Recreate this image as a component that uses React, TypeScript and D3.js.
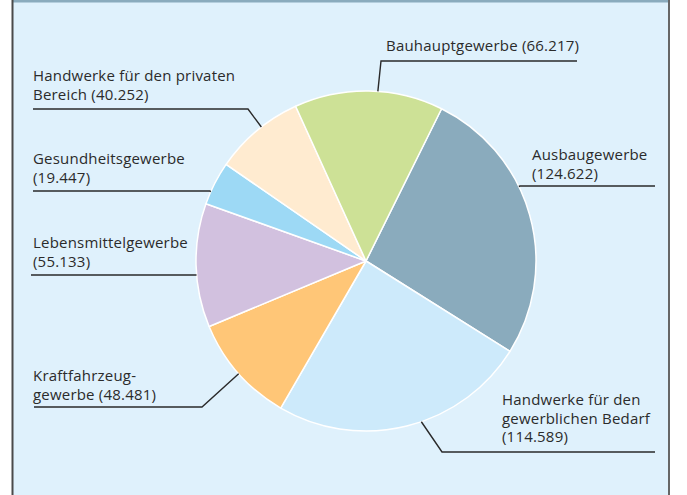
import React from "react";
import * as d3 from "d3";

const categories = [
  "Ausbaugewerbe",
  "Handwerke für den gewerblichen Bedarf",
  "Kraftfahrzeuggewerbe",
  "Lebensmittelgewerbe",
  "Gesundheitsgewerbe",
  "Handwerke für den privaten Bereich",
  "Bauhauptgewerbe",
];
const values = [124.622, 114.589, 48.481, 55.133, 19.447, 40.252, 66.217];
const valueLabels = ["124.622", "114.589", "48.481", "55.133", "19.447", "40.252", "66.217"];
const colors = ["#8aabbd", "#cdeafb", "#ffc677", "#d2c1df", "#9dd9f5", "#ffebd0", "#cde196"];

// label text lines (last line carries the value)
const labelLines: string[][] = [
  ["Ausbaugewerbe", "(124.622)"],
  ["Handwerke für den", "gewerblichen Bedarf", "(114.589)"],
  ["Kraftfahrzeug-", "gewerbe (48.481)"],
  ["Lebensmittelgewerbe", "(55.133)"],
  ["Gesundheitsgewerbe", "(19.447)"],
  ["Handwerke für den privaten", "Bereich (40.252)"],
  ["Bauhauptgewerbe (66.217)"],
];

// layout: text anchor, leader line path (elbow + end), angle on pie edge (deg)
const layout = [
  { tx: 532, ty: 160, leaderAngle: 64, elbow: [520, 186], end: [655, 186] },
  { tx: 502, ty: 405, leaderAngle: 161, elbow: [442, 452], end: [655, 452] },
  { tx: 33, ty: 381, leaderAngle: 228.5, elbow: [202, 407], end: [34, 407] },
  { tx: 33, ty: 248, leaderAngle: 265.3, elbow: [196, 275], end: [31, 275] },
  { tx: 33, ty: 164, leaderAngle: 294, elbow: [210, 191], end: [33, 191] },
  { tx: 33, ty: 81, leaderAngle: 322, elbow: [248, 109], end: [33, 109] },
  { tx: 386, ty: 51, leaderAngle: 4, elbow: [381, 61], end: [577, 61] },
];

const W = 687;
const H = 495;
const cx = 366;
const cy = 261;
const R = 170;
const startDeg = 26.4;

export default function App() {
  const pie = d3
    .pie<number>()
    .sort(null)
    .value((d) => d)
    .startAngle((startDeg * Math.PI) / 180)
    .endAngle(((startDeg + 360) * Math.PI) / 180);
  const arcs = pie(values);
  const arc = d3.arc<d3.PieArcDatum<number>>().innerRadius(0).outerRadius(R);
  const lineH = 18.5;

  return (
    <svg
      width={W}
      height={H}
      style={{ position: "absolute", left: 0, top: 0, display: "block" }}
      fontFamily="'Open Sans', 'Noto Sans', sans-serif"
    >
      <rect x={0} y={0} width={W} height={H} fill="#ffffff" />
      <rect x={12} y={0} width={657} height={H} fill="#dff1fc" />
      <rect x={12} y={0} width={658} height={2.5} fill="#8aabbd" />
      <line x1={12.5} y1={0} x2={12.5} y2={H} stroke="#4a4a4a" strokeWidth={2} />
      <line x1={669} y1={0} x2={669} y2={H} stroke="#666666" strokeWidth={2} />
      <g transform={`translate(${cx},${cy})`}>
        {arcs.map((a, i) => (
          <path key={categories[i]} d={arc(a) || ""} fill={colors[i]} stroke="#ffffff" strokeWidth={1.5} strokeLinejoin="round" />
        ))}
      </g>
      {layout.map((l, i) => {
        const ang = (l.leaderAngle * Math.PI) / 180;
        const px = cx + R * Math.sin(ang);
        const py = cy - R * Math.cos(ang);
        return (
          <g key={"lab" + i}>
            <polyline
              points={`${px},${py} ${l.elbow[0]},${l.elbow[1]} ${l.end[0]},${l.end[1]}`}
              fill="none"
              stroke="#2a2a2a"
              strokeWidth={1.4}
            />
            {labelLines[i].map((t, j) => (
              <text key={j} x={l.tx} y={l.ty + j * lineH} fontSize={15} letterSpacing={0.2} fill="#2b2b2b">
                {t}
              </text>
            ))}
          </g>
        );
      })}
    </svg>
  );
}
